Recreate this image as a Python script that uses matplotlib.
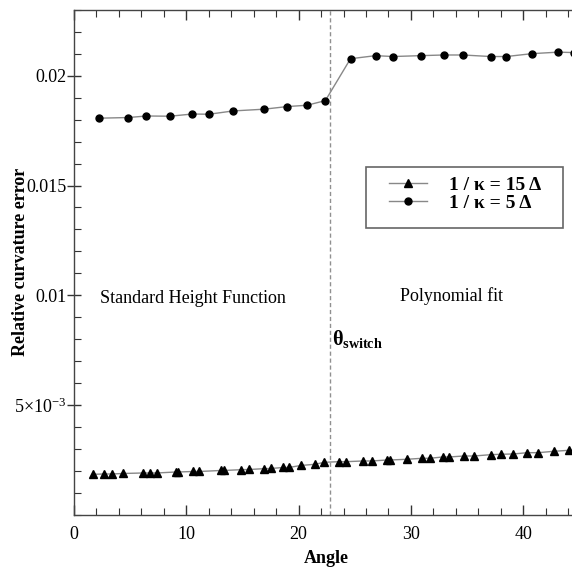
import numpy as np
import matplotlib.pyplot as plt
from matplotlib.patches import Rectangle
from matplotlib.ticker import MultipleLocator, FixedLocator, FixedFormatter

plt.rcParams['font.family'] = ['Liberation Serif', 'DejaVu Serif']
plt.rcParams['mathtext.fontset'] = 'custom'
plt.rcParams['mathtext.rm'] = 'Liberation Serif'
plt.rcParams['mathtext.it'] = 'Liberation Serif:italic'
plt.rcParams['mathtext.bf'] = 'Liberation Serif:bold'

# 1/kappa = 5 Delta
angle_5 = [2.23, 4.84, 6.44, 8.55, 10.53, 12.02, 14.16, 16.92, 19.00, 20.75, 22.38,
           24.62, 26.86, 28.41, 30.87, 32.92, 34.64, 37.10, 38.50, 40.76, 43.10, 44.50]
err_5 = [0.01807, 0.01810, 0.01817, 0.01816, 0.01826, 0.01825, 0.01840, 0.01848,
         0.01860, 0.01866, 0.01887, 0.02078, 0.02092, 0.02088, 0.02092, 0.02095,
         0.02095, 0.02088, 0.02088, 0.02101, 0.02108, 0.02106]

# 1/kappa = 15 Delta
angle_15 = [1.72, 2.70, 3.36, 4.39, 6.17, 6.77, 7.36, 9.08, 9.29, 10.62, 11.16,
            13.09, 13.36, 14.87, 15.61, 16.92, 17.52, 18.64, 19.12, 20.19, 21.46,
            22.29, 23.62, 24.22, 25.76, 26.51, 27.90, 28.14, 29.63, 31.02, 31.70,
            32.83, 33.39, 34.73, 35.62, 37.11, 38.00, 39.12, 40.37, 41.35, 42.74, 44.10]
err_15 = [0.001841, 0.001855, 0.001855, 0.001878, 0.001901, 0.001901, 0.001901,
          0.001946, 0.001946, 0.001969, 0.001969, 0.002015, 0.002015, 0.002051,
          0.002060, 0.002097, 0.002106, 0.002151, 0.002151, 0.002242, 0.002297,
          0.002388, 0.002416, 0.002416, 0.002448, 0.002448, 0.002493, 0.002493,
          0.002525, 0.002571, 0.002571, 0.002630, 0.002630, 0.002675, 0.002675,
          0.002735, 0.002753, 0.002767, 0.002826, 0.002826, 0.002890, 0.002935]

theta_switch = 22.8
y_ticks = [0.005, 0.01, 0.015, 0.02]
y_ticklabels = [r'5$\times$10$^{-3}$', '0.01', '0.015', '0.02']

fig = plt.figure(figsize=(5.72, 5.72), dpi=100)
ax = fig.add_axes([0.1294, 0.1002, 0.8835, 0.8823])

line_col = '#888888'
ax.plot(angle_15, err_15, color=line_col, lw=1.0, marker='^', ms=6,
        mfc='black', mec='black', label='1 / κ = 15 Δ')
ax.plot(angle_5, err_5, color=line_col, lw=1.0, marker='o', ms=5,
        mfc='black', mec='black', label='1 / κ = 5 Δ')

ax.axvline(theta_switch, color='#909090', lw=1.0, ls=(0, (3, 2)))

ax.set_xlim(0, 45)
ax.set_ylim(0, 0.023)

ax.xaxis.set_major_locator(MultipleLocator(10))
ax.xaxis.set_minor_locator(MultipleLocator(2))
ax.yaxis.set_major_locator(FixedLocator(y_ticks))
ax.yaxis.set_major_formatter(FixedFormatter(y_ticklabels))
ax.yaxis.set_minor_locator(MultipleLocator(0.001))

ax.tick_params(axis='both', which='both', direction='in', top=True, right=False,
               labelsize=13, colors='#333333', labelcolor='black')
ax.tick_params(axis='both', which='major', length=7, width=1.0)
ax.tick_params(axis='both', which='minor', length=5, width=0.8)
ax.tick_params(axis='x', which='major', pad=8)
ax.tick_params(axis='y', which='major', direction='inout', length=10, pad=0.5)
for side in ['left', 'bottom', 'top', 'right']:
    ax.spines[side].set_color('#444444')
    ax.spines[side].set_linewidth(1.0)

ax.set_xlabel('Angle', fontsize=13, fontweight='bold', labelpad=5)
ax.set_ylabel('Relative curvature error', fontsize=13, fontweight='bold')
ax.yaxis.set_label_coords(-0.089, 0.5)

ax.text(2.3, 0.00983, 'Standard Height Function', fontsize=13, va='center')
ax.text(29.0, 0.00997, 'Polynomial fit', fontsize=13, va='center')
ax.text(23.0, 0.0080, r'$\mathbf{\theta}_{\mathbf{switch}}$', fontsize=14.5, va='center')

# legend entries without frame, box drawn separately for wider side padding
leg = ax.legend(loc='center left', bbox_to_anchor=(0.6801, 0.6608),
                bbox_transform=fig.transFigure,
                prop={'weight': 'bold', 'size': 14}, frameon=False,
                handlelength=1.95, borderpad=0, labelspacing=0.05,
                handletextpad=1.15, borderaxespad=0)
fig.patches.append(Rectangle((0.6399, 0.6014), 0.3444, 0.1066,
                             transform=fig.transFigure, fill=False,
                             edgecolor='#666666', lw=1.2))

fig.savefig('out.png', dpi=100)
